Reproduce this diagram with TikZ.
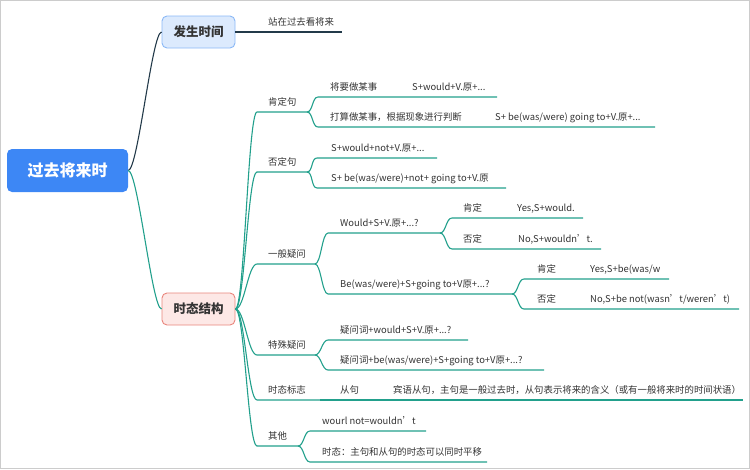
\documentclass[tikz,border=0pt]{standalone}
\usepackage{fontspec}
\setmainfont{Noto Sans CJK SC}
\definecolor{tealc}{HTML}{22A08C}
\definecolor{darkc}{HTML}{233A4A}
\definecolor{txtc}{HTML}{333333}
\definecolor{rootc}{HTML}{3D87F5}
\definecolor{bluef}{HTML}{DCEAFD}
\definecolor{blued}{HTML}{8AB8F6}
\definecolor{redf}{HTML}{FDE8E6}
\definecolor{redd}{HTML}{E9857C}
\definecolor{framec}{HTML}{CCCCCC}
\tikzset{
  txt/.style={anchor=base west, inner sep=0pt, text=txtc, font=\fontsize{9.4}{11}\selectfont},
  br/.style={draw=tealc, line width=1.1pt},
  dbr/.style={draw=darkc, line width=1.1pt},
  topicbox/.style={rounded corners=5pt, line width=0.9pt, minimum width=73pt, minimum height=32pt, inner sep=0pt, text=txtc, font=\fontsize{12.5}{14}\selectfont\bfseries},
}
\begin{document}
\begin{tikzpicture}[x=1pt,y=-1pt]
\useasboundingbox (0,0) rectangle (750,469);
\draw[framec, line width=1pt] (0.5,0.5) rectangle (749.5,468.5);

% main topics
\node[fill=rootc, rounded corners=5pt, minimum width=121pt, minimum height=43pt, inner sep=0pt, text=white, font=\fontsize{16}{18}\selectfont\bfseries] (root) at (67.5,170.5) {过去将来时};
\node[topicbox, fill=bluef, draw=blued] (fssj) at (198.5,32) {发生时间};
\node[topicbox, fill=redf, draw=redd] (tsjg) at (198.5,309) {时态结构};

\draw[dbr] (root.east) .. controls (138,170.5) and (152,32) .. (fssj.west);
\draw[br] (root.east) .. controls (138,170.5) and (152,309) .. (tsjg.west);

% 发生时间
\coordinate (fsE) at (342,32);
\draw[dbr] (fssj.east) -- (fsE);
\node[txt] (fs1) at (268,25) {站在过去看将来};

% coordinates of the underlines
\coordinate (kdA) at (257,112); \coordinate (kdB) at (307,112);
\coordinate (kd1A) at (318,97); \coordinate (kd1B) at (497,97);
\coordinate (kd2A) at (318,127); \coordinate (kd2B) at (655,127);
\coordinate (fdA) at (257,172); \coordinate (fdB) at (307,172);
\coordinate (fd1A) at (317,158); \coordinate (fd1B) at (437,158);
\coordinate (fd2A) at (317,188); \coordinate (fd2B) at (506,188);
\coordinate (ybA) at (257,264); \coordinate (ybB) at (315,264);
\coordinate (yb1A) at (328,233); \coordinate (yb1B) at (440,233);
\coordinate (yb11A) at (452,218); \coordinate (yb11B) at (583,218);
\coordinate (yb12A) at (452,249); \coordinate (yb12B) at (601,249);
\coordinate (yb2A) at (328,294); \coordinate (yb2B) at (512,294);
\coordinate (yb21A) at (524,279); \coordinate (yb21B) at (669,279);
\coordinate (yb22A) at (524,309); \coordinate (yb22B) at (739,309);
\coordinate (tsA) at (257,355); \coordinate (tsB) at (315,355);
\coordinate (ts1A) at (328,340); \coordinate (ts1B) at (468,340);
\coordinate (ts2A) at (328,370); \coordinate (ts2B) at (544,370);
\coordinate (bzA) at (257,400); \coordinate (bzB) at (320,400);
\coordinate (bz1B) at (383,400);
\coordinate (bz2B) at (743,400);
\coordinate (qtA) at (257,446); \coordinate (qtB) at (298,446);
\coordinate (qt1A) at (310,431); \coordinate (qt1B) at (426,431);
\coordinate (qt2A) at (310,462); \coordinate (qt2B) at (487,462);

% level 1 connectors
\foreach \n in {kd,fd,yb,ts,bz,qt}{
  \draw[br] (tsjg.east) .. controls +(9,0) and +(-9,0) .. (\n A) -- (\n B);
}
% level 2 connectors
\foreach \p/\c in {kd/kd1,kd/kd2,fd/fd1,fd/fd2,yb/yb1,yb/yb2,ts/ts1,ts/ts2,qt/qt1,qt/qt2,yb1/yb11,yb1/yb12,yb2/yb21,yb2/yb22}{
  \draw[br] (\p B) .. controls +(6,0) and +(-6,0) .. (\c A) -- (\c B);
}
\draw[br] (bzB) -- (bz1B) -- (bz2B);

% texts
\node[txt] (kd) at (268,105) {肯定句};
\node[txt] (kd1) at (330,90) {将要做某事};
\node[txt] (kd1s) at (412,90) {S+would+V.原+...};
\node[txt] (kd2) at (330,120) {打算做某事，根据现象进行判断};
\node[txt] (kd2s) at (495,120) {S+ be(was/were) going to+V.原+...};

\node[txt] (fd) at (268,165) {否定句};
\node[txt] (fd1) at (331,151) {S+would+not+V.原+...};
\node[txt] (fd2) at (331,181) {S+ be(was/were)+not+ going to+V.原};

\node[txt] (yb) at (268,257) {一般疑问};
\node[txt] (yb1) at (340,226) {Would+S+V.原+...?};
\node[txt] (yb11) at (463,211) {肯定};
\node[txt] (yb11s) at (517,211) {Yes,S+would.};
\node[txt] (yb12) at (463,242) {否定};
\node[txt] (yb12s) at (518,242) {No,S+wouldn’t.};
\node[txt] (yb2) at (340,287) {Be(was/were)+S+going to+V原+...?};
\node[txt] (yb21) at (537,272) {肯定};
\node[txt] (yb21s) at (590,272) {Yes,S+be(was/w};
\node[txt] (yb22) at (537,302) {否定};
\node[txt] (yb22s) at (590,302) {No,S+be not(wasn’t/weren’t)};

\node[txt] (ts) at (268,348) {特殊疑问};
\node[txt] (ts1) at (340,333) {疑问词+would+S+V.原+...?};
\node[txt] (ts2) at (340,363) {疑问词+be(was/were)+S+going to+V原+...?};

\node[txt] (bz) at (268,393) {时态标志};
\node[txt] (bz1) at (340,393) {从句};
\node[txt] (bz2) at (393,393) {宾语从句，主句是一般过去时，从句表示将来的含义（或有一般将来时的时间状语）};

\node[txt] (qt) at (268,439) {其他};
\node[txt] (qt1) at (322,424) {wourl not=wouldn’t};
\node[txt] (qt2) at (322,455) {时态：主句和从句的时态可以同时平移};
\end{tikzpicture}
\end{document}
